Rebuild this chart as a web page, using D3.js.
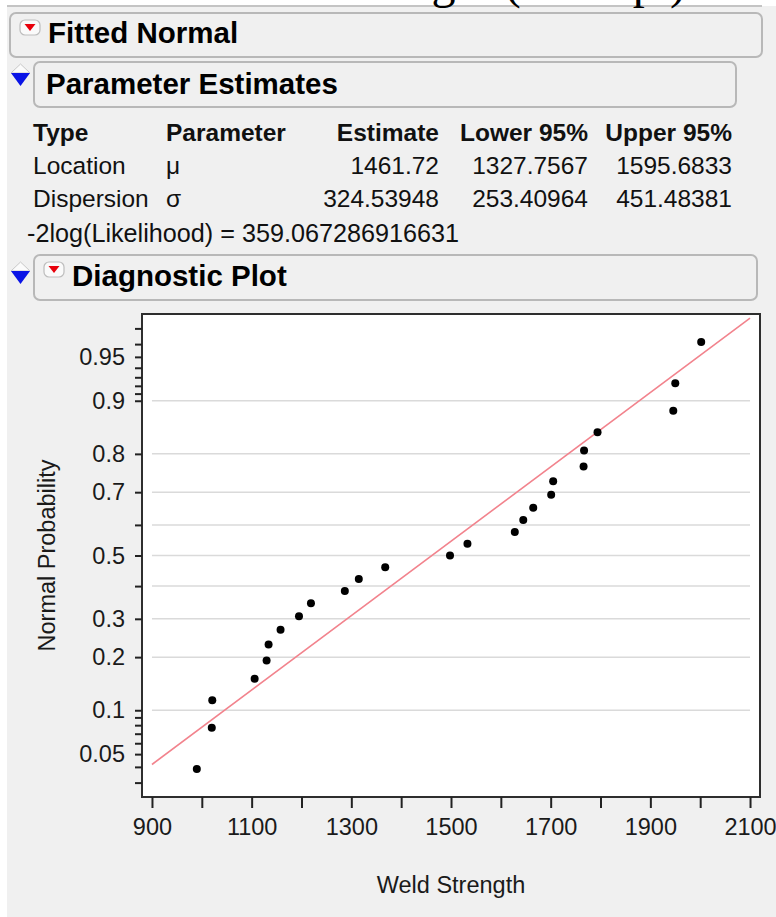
<!DOCTYPE html>
<html>
<head>
<meta charset="utf-8">
<script src="https://cdn.jsdelivr.net/npm/d3@7"></script>
<style>
  body { margin: 0; background: #fff; }
  svg { display: block; font-family: "Liberation Sans", Arial, sans-serif; }
</style>
</head>
<body>
<svg id="chart"></svg>
<script>
// ---- data ----
const weldStrength = [990, 1020, 1021, 1106, 1130, 1134, 1158, 1195, 1219, 1287, 1315, 1368,
                      1498, 1533, 1628, 1645, 1665, 1701, 1705, 1766, 1767, 1794, 1946, 1950, 2002];
const mu = 1461.72, sigma = 324.53948;

const paramTypes   = ["Location", "Dispersion"];
const paramSymbols = ["μ", "σ"];
const estimates    = ["1461.72", "324.53948"];
const lower95      = ["1327.7567", "253.40964"];
const upper95      = ["1595.6833", "451.48381"];
const tableHeader  = ["Type", "Parameter", "Estimate", "Lower 95%", "Upper 95%"];
const likelihoodText = "-2log(Likelihood) = 359.067286916631";

const xTicks      = [900, 1000, 1100, 1200, 1300, 1400, 1500, 1600, 1700, 1800, 1900, 2000, 2100];
const xTickLabels = [900, 1100, 1300, 1500, 1700, 1900, 2100];
const probTicks   = [0.03, 0.04, 0.05, 0.06, 0.07, 0.08, 0.09, 0.1, 0.2, 0.3, 0.4, 0.5, 0.6, 0.7, 0.8,
                     0.9, 0.91, 0.92, 0.93, 0.94, 0.95, 0.96, 0.97];
const probLabels  = [0.05, 0.1, 0.2, 0.3, 0.5, 0.7, 0.8, 0.9, 0.95];
const probGrid    = [0.1, 0.2, 0.3, 0.4, 0.5, 0.6, 0.7, 0.8, 0.9];

// inverse normal cdf (Acklam)
function qnorm(p) {
    const a = [-39.69683028665376, 220.9460984245205, -275.9285104469687, 138.3577518672690, -30.66479806614716, 2.506628277459239];
    const b = [-54.47609879822406, 161.5858368580409, -155.6989798598866, 66.80131188771972, -13.28068155288572];
    const c = [-0.007784894002430293, -0.3223964580411365, -2.400758277161838, -2.549732539343734, 4.374664141464968, 2.938163982698783];
    const d = [0.007784695709041462, 0.3224671290700398, 2.445134137142996, 3.754408661907416];
    const pl = 0.02425;
    if (p < pl) {
        const q = Math.sqrt(-2 * Math.log(p));
        return (((((c[0]*q+c[1])*q+c[2])*q+c[3])*q+c[4])*q+c[5]) / ((((d[0]*q+d[1])*q+d[2])*q+d[3])*q+1);
    }
    if (p > 1 - pl) {
        const q = Math.sqrt(-2 * Math.log(1 - p));
        return -(((((c[0]*q+c[1])*q+c[2])*q+c[3])*q+c[4])*q+c[5]) / ((((d[0]*q+d[1])*q+d[2])*q+d[3])*q+1);
    }
    const q = p - 0.5, r = q * q;
    return (((((a[0]*r+a[1])*r+a[2])*r+a[3])*r+a[4])*r+a[5])*q / (((((b[0]*r+b[1])*r+b[2])*r+b[3])*r+b[4])*r+1);
}

const W = 776, H = 917;
const svg = d3.select("#chart").attr("width", W).attr("height", H);

// background panel
svg.append("rect").attr("x", 0).attr("y", 0).attr("width", W).attr("height", H).attr("fill", "#fff");
svg.append("rect").attr("x", 7).attr("y", 6).attr("width", W - 7).attr("height", H - 6).attr("fill", "#f0f0f0");
svg.append("line").attr("x1", 7).attr("x2", 762).attr("y1", 6).attr("y2", 6)
    .attr("stroke", "#c4c4c4").attr("stroke-width", 2);

// clipped heading from the page above (only the descenders show)
svg.append("text")
    .attr("x", 218).attr("y", -2)
    .style("font-family", "'Liberation Serif', 'Times New Roman', serif")
    .style("font-size", "48px")
    .attr("fill", "#000")
    .text("Weld Strength (Excerpt)");

// outline boxes
function outlineBox(x, y, w, h) {
    svg.append("rect").attr("x", x).attr("y", y).attr("width", w).attr("height", h)
        .attr("rx", 6).attr("fill", "#f0f0f0").attr("stroke", "#b8b8b8").attr("stroke-width", 2);
}
function redMenu(x, y) {
    svg.append("rect").attr("x", x).attr("y", y).attr("width", 20).attr("height", 15).attr("rx", 5)
        .attr("fill", "#fafafa").attr("stroke", "#bdbdbd").attr("stroke-width", 1.2);
    svg.append("path").attr("d", `M${x + 4.5},${y + 4} L${x + 15.5},${y + 4} L${x + 10},${y + 11} Z`)
        .attr("fill", "#e8000b");
}
function blueToggle(x, y) {
    svg.append("path").attr("d", `M${x},${y + 9} L${x + 9.5},${y} L${x + 19},${y + 9} Z`)
        .attr("fill", "#fbfbfb").attr("stroke", "#c8c8c8").attr("stroke-width", 1);
    svg.append("path").attr("d", `M${x},${y + 9} L${x + 19},${y + 9} L${x + 9.5},${y + 22} Z`)
        .attr("fill", "#0a14e6");
}
function headerText(x, y, t) {
    svg.append("text").attr("x", x).attr("y", y).attr("fill", "#000")
        .style("font-size", "29.5px").style("font-weight", "bold").text(t);
}

outlineBox(10, 13, 752, 44);
redMenu(20, 20);
headerText(48, 43, "Fitted Normal");

blueToggle(11, 64);
outlineBox(34, 62, 702, 45);
headerText(46, 94, "Parameter Estimates");

// parameter table
const colX = [33, 166, 439, 588, 732];
const colAnchor = ["start", "start", "end", "end", "end"];
const rowY = [141, 174, 207];
const tbl = svg.append("g").style("font-size", "24.5px").attr("fill", "#111");
tableHeader.forEach((t, i) => {
    tbl.append("text").attr("x", colX[i]).attr("y", rowY[0]).attr("text-anchor", colAnchor[i])
        .style("font-weight", "bold").text(t);
});
paramTypes.forEach((t, r) => {
    const cells = [t, paramSymbols[r], estimates[r], lower95[r], upper95[r]];
    cells.forEach((c, i) => {
        tbl.append("text").attr("x", colX[i]).attr("y", rowY[r + 1]).attr("text-anchor", colAnchor[i]).text(c);
    });
});
tbl.append("text").attr("x", 27).attr("y", 242).style("font-size", "25.2px").text(likelihoodText);

blueToggle(11, 262);
outlineBox(34, 255, 723, 45);
redMenu(44, 262);
headerText(72, 286, "Diagnostic Plot");

// ---- diagnostic plot ----
const plot = { left: 142, right: 760, top: 314, bottom: 797 };
const x = d3.scaleLinear().domain([880, 2120]).range([plot.left, plot.right]);
const y = d3.scaleLinear().domain([-2, 2]).range([plot.bottom, plot.top]);   // normal quantile
const n = weldStrength.length;

svg.append("rect").attr("x", plot.left).attr("y", plot.top)
    .attr("width", plot.right - plot.left).attr("height", plot.bottom - plot.top).attr("fill", "#fff");

svg.append("g").selectAll("line").data(probGrid).enter().append("line")
    .attr("x1", x(900)).attr("x2", x(2100))
    .attr("y1", d => y(qnorm(d))).attr("y2", d => y(qnorm(d)))
    .attr("stroke", "#dadada").attr("stroke-width", 1.5);

// fitted normal line
svg.append("line")
    .attr("x1", x(900)).attr("y1", y((900 - mu) / sigma))
    .attr("x2", x(2100)).attr("y2", y((2100 - mu) / sigma))
    .attr("stroke", "#f2838d").attr("stroke-width", 1.6);

svg.append("g").selectAll("circle").data(weldStrength).enter().append("circle")
    .attr("cx", d => x(d))
    .attr("cy", (d, i) => y(qnorm((i + 1) / (n + 1))))
    .attr("r", 4).attr("fill", "#000");

svg.append("rect").attr("x", plot.left).attr("y", plot.top)
    .attr("width", plot.right - plot.left).attr("height", plot.bottom - plot.top)
    .attr("fill", "none").attr("stroke", "#2e2e2e").attr("stroke-width", 2);

const xAxis = svg.append("g")
    .attr("transform", `translate(0,${plot.bottom})`)
    .call(d3.axisBottom(x).tickValues(xTicks).tickSize(11).tickPadding(10.5)
        .tickFormat(d => xTickLabels.includes(d) ? d : ""));
xAxis.select(".domain").remove();
xAxis.selectAll("line").attr("stroke", "#222").attr("stroke-width", 2);
xAxis.selectAll("text").style("font-size", "23.5px").style("font-family", "'Liberation Sans', Arial, sans-serif").attr("fill", "#1a1a1a");

const yAxis = svg.append("g")
    .attr("transform", `translate(${plot.left},0)`)
    .call(d3.axisLeft(y).tickValues(probTicks.map(qnorm)).tickSize(7).tickPadding(10)
        .tickFormat((z, i) => probLabels.includes(probTicks[i]) ? String(probTicks[i]) : ""));
yAxis.select(".domain").remove();
yAxis.selectAll("line").attr("stroke", "#222").attr("stroke-width", 2);
yAxis.selectAll("text").style("font-size", "23.5px").style("font-family", "'Liberation Sans', Arial, sans-serif").attr("fill", "#1a1a1a");

svg.append("text")
    .attr("x", (plot.left + plot.right) / 2).attr("y", 893)
    .attr("text-anchor", "middle").style("font-size", "23.5px").attr("fill", "#1a1a1a")
    .text("Weld Strength");

svg.append("text")
    .attr("transform", `translate(55,${(plot.top + plot.bottom) / 2}) rotate(-90)`)
    .attr("text-anchor", "middle").style("font-size", "23.5px").attr("fill", "#1a1a1a")
    .text("Normal Probability");
</script>
</body>
</html>
